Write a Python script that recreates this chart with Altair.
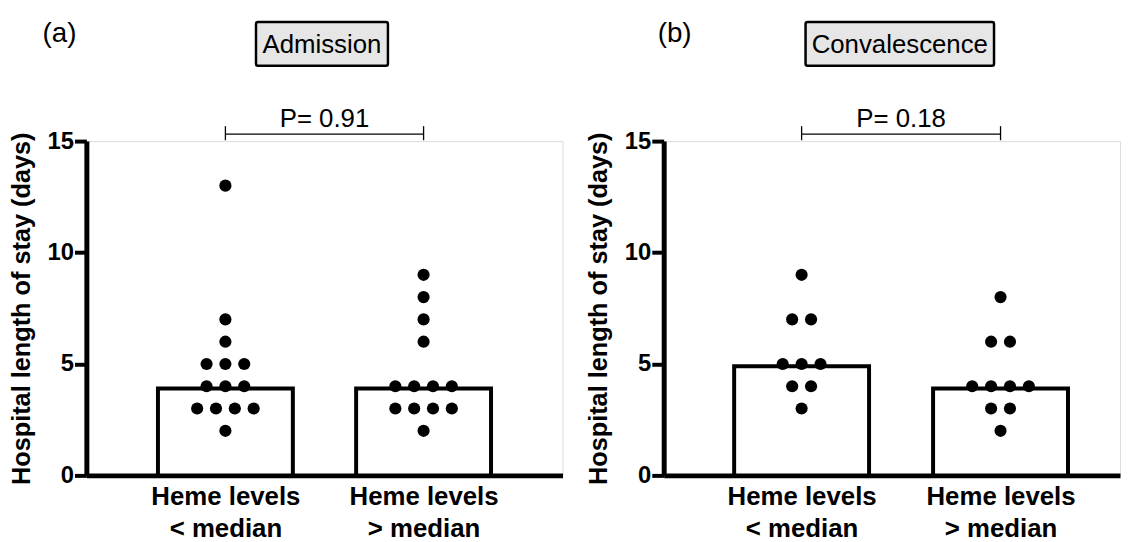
import altair as alt
import pandas as pd

# ---- data ----
groups = [1, 2]
group_labels = [["Heme levels", "< median"], ["Heme levels", "> median"]]

adm_lt = [13, 7, 6, 5, 5, 5, 4, 4, 4, 3, 3, 3, 3, 2]
adm_gt = [9, 8, 7, 6, 4, 4, 4, 4, 3, 3, 3, 3, 2]
con_lt = [9, 7, 7, 5, 5, 5, 4, 4, 3]
con_gt = [8, 6, 6, 4, 4, 4, 4, 3, 3, 2]

adm_median = [3.9, 3.9]
con_median = [4.9, 3.9]

p_texts = ["P= 0.91", "P= 0.18"]
panel_titles = ["Admission", "Convalescence"]
panel_letters = ["(a)", "(b)"]

FONT = "Liberation Sans"
DOT_STEP = 0.095
Y_TITLE = "Hospital length of stay (days)"

label_expr = "datum.value == {} ? {} : {}".format(
    groups[0],
    "[" + ", ".join("'" + s + "'" for s in group_labels[0]) + "]",
    "[" + ", ".join("'" + s + "'" for s in group_labels[1]) + "]",
)


def panel(lt, gt, medians, ptext, title, letter, box_x, letter_x, xdomain, width):
    pts = pd.DataFrame(
        {"group": [groups[0]] * len(lt) + [groups[1]] * len(gt), "value": lt + gt}
    )
    bars = pd.DataFrame({"group": groups, "median": medians})

    xscale = alt.Scale(domain=xdomain, nice=False, zero=False)
    yscale = alt.Scale(domain=[0, 15], nice=False)

    xaxis = alt.Axis(
        values=groups, labelExpr=label_expr, title=None, ticks=False,
        labelFont=FONT, labelFontSize=26, labelFontWeight="bold", labelColor="black",
        labelPadding=8, labelLineHeight=33, labelBaseline="top", labelFlush=False,
        labelOverlap=False, domainColor="black", domainWidth=5, grid=False,
    )
    yaxis = alt.Axis(
        values=[0, 5, 10, 15], title=Y_TITLE, titleFont=FONT, titleFontSize=25.5,
        titleFontWeight="bold", titleColor="black", titlePadding=13,
        labelFont=FONT, labelFontSize=24, labelFontWeight="bold", labelColor="black",
        labelPadding=1, tickSize=12, tickWidth=4, tickColor="black",
        domainColor="black", domainWidth=5, grid=False, labelFlush=False,
    )

    bar = alt.Chart(bars).mark_bar(
        size=136, fill="white", stroke="black", strokeWidth=4
    ).encode(
        x=alt.X("group:Q", scale=xscale, axis=xaxis),
        y=alt.Y("median:Q", scale=yscale, axis=yaxis),
    )

    dots = alt.Chart(pts).transform_window(
        rank="row_number()", groupby=["group", "value"]
    ).transform_joinaggregate(
        n="count()", groupby=["group", "value"]
    ).transform_calculate(
        xpos="datum.group + (datum.rank - (datum.n + 1) / 2) * %f" % DOT_STEP
    ).mark_circle(size=150, color="black", opacity=1).encode(
        x=alt.X("xpos:Q", scale=xscale),
        y=alt.Y("value:Q", scale=yscale),
    )

    ann = pd.DataFrame({"x1": [groups[0]], "x2": [groups[1]], "mid": [sum(groups) / 2],
                        "p": [ptext], "title": [title], "letter": [letter]})
    base = alt.Chart(ann)
    bracket = base.mark_rule(color="black", strokeWidth=1.3, clip=False).encode(
        x=alt.X("x1:Q", scale=xscale), x2="x2:Q", y=alt.datum(15.31)
    )
    ends = alt.Chart(pd.DataFrame({"g": groups})).mark_rule(
        color="black", strokeWidth=1.3, clip=False
    ).encode(x=alt.X("g:Q", scale=xscale), y=alt.datum(15.04), y2=alt.datum(15.67))
    ptxt = base.mark_text(
        font=FONT, fontSize=26, color="black", baseline="alphabetic", dy=-7, clip=False
    ).encode(x=alt.X("mid:Q", scale=xscale), y=alt.datum(15.31), text="p:N")

    box = base.mark_rect(
        fill="#e6e6e6", stroke="black", strokeWidth=2.5, cornerRadius=2
    ).encode(
        x=alt.value(box_x[0]), x2=alt.value(box_x[1]),
        y=alt.value(-120), y2=alt.value(-76),
    )
    btxt = base.mark_text(
        font=FONT, fontSize=26, color="black", baseline="middle", align="center"
    ).encode(
        x=alt.value((box_x[0] + box_x[1]) / 2), y=alt.value(-97), text="title:N"
    )
    ltxt = base.mark_text(
        font=FONT, fontSize=28, color="black", baseline="middle", align="center"
    ).encode(x=alt.value(letter_x), y=alt.value(-108), text="letter:N")

    return alt.layer(bar, dots, bracket, ends, ptxt, box, btxt, ltxt).properties(
        width=width, height=337
    )


pa = panel(adm_lt, adm_gt, adm_median, p_texts[0], panel_titles[0], panel_letters[0],
           (171, 304), -27, [0.3235, 2.676], 480)
pb = panel(con_lt, con_gt, con_median, p_texts[1], panel_titles[1], panel_letters[1],
           (143, 333), 11, [0.3317, 0.3317 + 460 / 205], 460)

chart = alt.hconcat(pa, pb, spacing=22).properties(
    padding={"left": 0, "top": 9, "right": 0, "bottom": 0}
).configure_view(stroke=None).configure(background="white")

chart.save("out.html", embed_options={"renderer": "svg", "actions": False})
